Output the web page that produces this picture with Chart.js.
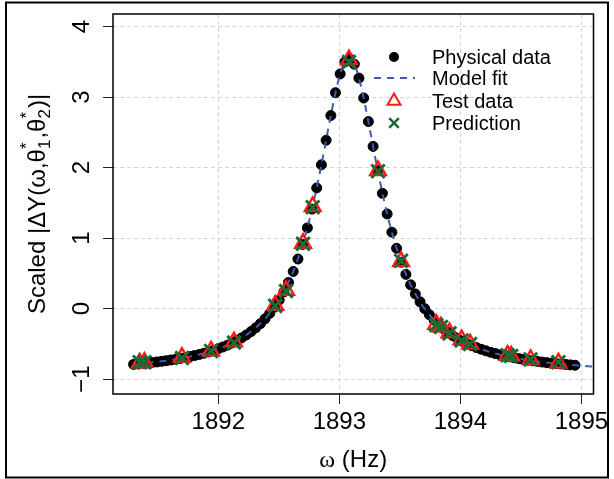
<!DOCTYPE html>
<html>
<head>
<meta charset="utf-8">
<script src="https://cdn.jsdelivr.net/npm/chart.js@4.4.0/dist/chart.umd.min.js"></script>
<style>
html, body { margin: 0; padding: 0; background: #fff; }
</style>
</head>
<body>
<canvas id="chart" width="614" height="479"></canvas>
<script>
// physical data (black dots)
const physX = [1891.300,1891.339,1891.378,1891.416,1891.455,1891.494,1891.533,1891.572,1891.610,1891.649,
  1891.688,1891.727,1891.766,1891.804,1891.843,1891.882,1891.921,1891.960,1891.998,1892.037,
  1892.076,1892.115,1892.154,1892.192,1892.231,1892.270,1892.309,1892.348,1892.386,1892.425,
  1892.464,1892.503,1892.542,1892.580,1892.619,1892.658,1892.697,1892.736,1892.774,1892.813,
  1892.852,1892.891,1892.930,1892.968,1893.007,1893.046,1893.085,1893.124,1893.162,1893.201,
  1893.240,1893.279,1893.318,1893.356,1893.395,1893.434,1893.473,1893.512,1893.550,1893.589,
  1893.628,1893.667,1893.706,1893.744,1893.783,1893.822,1893.861,1893.900,1893.938,1893.977,
  1894.016,1894.055,1894.094,1894.132,1894.171,1894.210,1894.249,1894.288,1894.326,1894.365,
  1894.404,1894.443,1894.482,1894.520,1894.559,1894.598,1894.637,1894.676,1894.714,1894.753,
  1894.792,1894.831,1894.870,1894.908,1894.947];
const physY = [-0.790,-0.784,-0.777,-0.770,-0.763,-0.755,-0.746,-0.737,-0.727,-0.717,
  -0.705,-0.693,-0.679,-0.665,-0.649,-0.632,-0.613,-0.592,-0.569,-0.544,
  -0.517,-0.486,-0.452,-0.415,-0.373,-0.325,-0.272,-0.212,-0.144,-0.066,
  0.022,0.123,0.239,0.373,0.528,0.705,0.911,1.146,1.413,1.713,
  2.041,2.389,2.740,3.064,3.330,3.500,3.549,3.468,3.271,2.988,
  2.654,2.302,1.958,1.636,1.344,1.085,0.857,0.659,0.487,0.338,
  0.209,0.097,-0.001,-0.086,-0.161,-0.227,-0.286,-0.337,-0.383,-0.424,
  -0.461,-0.494,-0.524,-0.551,-0.575,-0.597,-0.618,-0.636,-0.653,-0.668,
  -0.683,-0.696,-0.708,-0.719,-0.730,-0.739,-0.748,-0.757,-0.765,-0.772,
  -0.779,-0.785,-0.791,-0.797,-0.802];

// model fit (blue dashed)
const fitX = [1891.30,1891.50,1891.70,1891.90,1892.10,1892.25,1892.40,1892.50,1892.60,1892.70,
  1892.78,1892.85,1892.92,1892.98,1893.03,1893.08,1893.13,1893.18,1893.24,1893.30,
  1893.37,1893.45,1893.55,1893.65,1893.75,1893.90,1894.05,1894.25,1894.45,1894.65,
  1894.85,1895.05,1895.20];
const fitY = [-0.790,-0.753,-0.701,-0.623,-0.498,-0.350,-0.118,0.115,0.448,0.929,
  1.454,2.024,2.654,3.151,3.443,3.530,3.443,3.151,2.654,2.112,
  1.530,0.987,0.489,0.144,-0.098,-0.338,-0.490,-0.618,-0.698,-0.751,
  -0.788,-0.815,-0.830];

// test data (red triangles) and prediction (green crosses)
const testX = [1891.35,1891.39,1891.70,1891.94,1892.13,1892.47,1892.56,1892.70,1892.78,1893.08,
  1893.32,1893.51,1893.80,1893.84,1893.91,1894.01,1894.08,1894.39,1894.42,1894.58,1894.81];
const testY = [-0.77,-0.76,-0.69,-0.60,-0.47,0.05,0.26,0.93,1.45,3.53,
  1.96,0.67,-0.22,-0.26,-0.34,-0.44,-0.50,-0.66,-0.67,-0.72,-0.77];
const predY = [-0.76,-0.76,-0.70,-0.60,-0.48,0.04,0.25,0.92,1.44,3.50,
  1.95,0.68,-0.23,-0.26,-0.35,-0.45,-0.50,-0.66,-0.67,-0.72,-0.76];

const xTicks = [1892, 1893, 1894, 1895];
const yTicks = [-1, 0, 1, 2, 3, 4];
const legendLabels = ['Physical data', 'Model fit', 'Test data', 'Prediction'];

const FONT = '"Liberation Sans", Arial, Helvetica, sans-serif';
const RED = '#ff1a1a';
const GREEN = '#1b6b33';
const BLUE = '#3d5cb0';

const pts = (xs, ys) => xs.map((x, i) => ({ x: x, y: ys[i] }));

function drawTitleY(ctx, cx, cy) {
  const big = '24px ' + FONT, small = '17px ' + FONT;
  const parts = [
    { t: 'Scaled |\u0394Y(\u03c9,\u03b8' },
    { sub: '1', sup: '*' },
    { t: ',\u03b8' },
    { sub: '2', sup: '*' },
    { t: ')|' }
  ];
  let w = 0;
  parts.forEach(p => {
    if (p.t) { ctx.font = big; p.w = ctx.measureText(p.t).width; }
    else { ctx.font = small; p.w = Math.max(ctx.measureText(p.sub).width, ctx.measureText(p.sup).width) + 1; }
    w += p.w;
  });
  ctx.save();
  ctx.translate(cx, cy);
  ctx.rotate(-Math.PI / 2);
  ctx.fillStyle = '#000';
  ctx.textAlign = 'left';
  ctx.textBaseline = 'alphabetic';
  let x = -w / 2;
  parts.forEach(p => {
    if (p.t) { ctx.font = big; ctx.fillText(p.t, x, 0); }
    else {
      ctx.font = small;
      ctx.fillText(p.sub, x, 5);
      ctx.fillText(p.sup, x, -13);
    }
    x += p.w;
  });
  ctx.restore();
}

const decorPlugin = {
  id: 'decor',
  beforeDraw(chart) {
    const ctx = chart.ctx;
    ctx.save();
    ctx.fillStyle = '#fff';
    ctx.fillRect(0, 0, chart.width, chart.height);
    ctx.restore();
  },
  afterDraw(chart) {
    const ctx = chart.ctx;
    const a = chart.chartArea;
    const xs = chart.scales.x, ys = chart.scales.y;
    ctx.save();
    // outer frame
    ctx.strokeStyle = '#000';
    ctx.lineWidth = 2;
    ctx.strokeRect(6, 2.5, 602, 475);
    // plot box
    ctx.lineWidth = 1.5;
    ctx.strokeRect(a.left, a.top, a.right - a.left, a.bottom - a.top);

    // tick labels
    ctx.fillStyle = '#000';
    ctx.font = '24px ' + FONT;
    ctx.textAlign = 'center';
    ctx.textBaseline = 'alphabetic';
    xTicks.forEach(v => {
      ctx.fillText(String(v), xs.getPixelForValue(v), 429);
    });
    yTicks.forEach(v => {
      const y = ys.getPixelForValue(v);
      ctx.save();
      ctx.translate(89, y);
      ctx.rotate(-Math.PI / 2);
      ctx.fillText(v < 0 ? '\u2212' + Math.abs(v) : String(v), 0, 0);
      ctx.restore();
    });

    // axis titles
    ctx.font = '24px "Liberation Serif", serif';
    const w1 = ctx.measureText('\u03c9').width;
    ctx.font = '24px ' + FONT;
    const w2 = ctx.measureText(' (Hz)').width;
    const sx = (a.left + a.right) / 2 - (w1 + w2) / 2;
    ctx.textAlign = 'left';
    ctx.font = '24px "Liberation Serif", serif';
    ctx.fillText('\u03c9', sx, 467);
    ctx.font = '24px ' + FONT;
    ctx.fillText(' (Hz)', sx + w1, 467);
    drawTitleY(ctx, 45, (a.top + a.bottom) / 2);

    // legend
    const lx = 394, tx = 432;
    const rows = [57, 78, 101, 123];
    ctx.beginPath();
    ctx.fillStyle = '#000';
    ctx.arc(lx, rows[0], 5, 0, Math.PI * 2);
    ctx.fill();
    ctx.strokeStyle = BLUE;
    ctx.lineWidth = 2;
    ctx.setLineDash([7, 6]);
    ctx.beginPath();
    ctx.moveTo(374, rows[1]);
    ctx.lineTo(415, rows[1]);
    ctx.stroke();
    ctx.setLineDash([]);
    ctx.strokeStyle = RED;
    ctx.lineWidth = 2;
    const r = 7.5, ty = rows[2];
    ctx.beginPath();
    ctx.moveTo(lx, ty - r);
    ctx.lineTo(lx + r * 0.866, ty + r * 0.5);
    ctx.lineTo(lx - r * 0.866, ty + r * 0.5);
    ctx.closePath();
    ctx.stroke();
    ctx.strokeStyle = GREEN;
    ctx.lineWidth = 2.5;
    const c = 4.8, cy = rows[3];
    ctx.beginPath();
    ctx.moveTo(lx - c, cy - c); ctx.lineTo(lx + c, cy + c);
    ctx.moveTo(lx + c, cy - c); ctx.lineTo(lx - c, cy + c);
    ctx.stroke();
    ctx.fillStyle = '#000';
    ctx.font = '20px ' + FONT;
    ctx.textAlign = 'left';
    ctx.textBaseline = 'middle';
    legendLabels.forEach((t, i) => ctx.fillText(t, tx, rows[i] + 1));
    ctx.restore();
  }
};

const gridOpts = {
  color: '#d4d4d4',
  lineWidth: 1,
  drawTicks: true,
  tickLength: 10,
  tickColor: '#222',
  tickWidth: 1,
  tickBorderDash: []
};

new Chart(document.getElementById('chart').getContext('2d'), {
  type: 'scatter',
  data: {
    datasets: [
      {
        label: 'Prediction',
        data: pts(testX, predY),
        pointStyle: 'crossRot',
        pointRadius: 9.5,
        borderColor: GREEN,
        backgroundColor: GREEN,
        pointBorderWidth: 3,
        order: 1
      },
      {
        label: 'Test data',
        data: pts(testX, testY),
        pointStyle: 'triangle',
        pointRadius: 9,
        borderColor: RED,
        backgroundColor: 'rgba(0,0,0,0)',
        pointBorderWidth: 2.5,
        order: 2
      },
      {
        label: 'Model fit',
        data: pts(fitX, fitY),
        showLine: true,
        cubicInterpolationMode: 'monotone',
        borderColor: BLUE,
        borderWidth: 2,
        borderDash: [7, 6],
        pointRadius: 0,
        order: 3
      },
      {
        label: 'Physical data',
        data: pts(physX, physY),
        pointStyle: 'circle',
        pointRadius: 5,
        backgroundColor: '#000',
        borderColor: '#000',
        pointBorderWidth: 1,
        order: 4
      }
    ]
  },
  options: {
    responsive: false,
    animation: false,
    events: [],
    layout: { padding: { left: 0, right: 20.5, top: 14, bottom: 0 } },
    plugins: {
      legend: { display: false },
      tooltip: { enabled: false }
    },
    scales: {
      x: {
        type: 'linear',
        min: 1891.13,
        max: 1895.10,
        afterBuildTicks: s => { s.ticks = xTicks.map(v => ({ value: v })); },
        afterFit: s => { s.height = 85; },
        ticks: { display: false },
        grid: gridOpts,
        border: { display: false, dash: [4, 3] }
      },
      y: {
        type: 'linear',
        min: -1.21,
        max: 4.18,
        afterBuildTicks: s => { s.ticks = yTicks.map(v => ({ value: v })); },
        afterFit: s => { s.width = 113; },
        ticks: { display: false },
        grid: gridOpts,
        border: { display: false, dash: [4, 3] }
      }
    }
  },
  plugins: [decorPlugin]
});
</script>
</body>
</html>
